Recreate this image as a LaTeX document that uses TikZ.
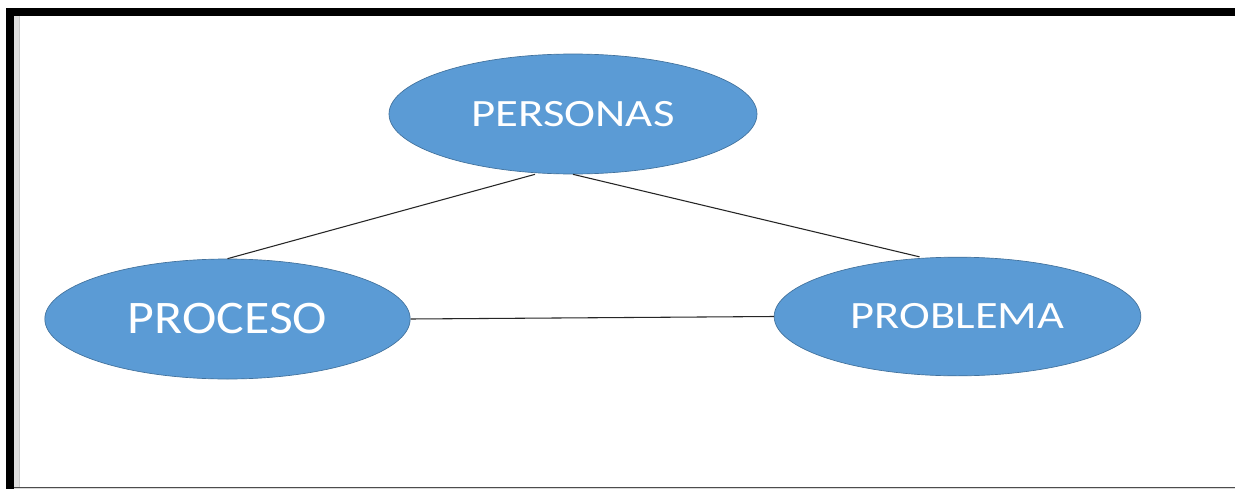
\documentclass[tikz,border=0pt]{standalone}
\usepackage{fontspec}
\setmainfont{Carlito}
\usetikzlibrary{shapes.geometric}
\definecolor{nodeblue}{HTML}{5B9BD5}
\definecolor{nodeedge}{HTML}{41719C}
\tikzset{
  bubble/.style={ellipse, fill=nodeblue, draw=nodeedge, line width=0.5pt, inner sep=0pt, text=white},
  link/.style={draw=black!85, line width=0.8pt},
}
\begin{document}
\begin{tikzpicture}[x=0.75pt, y=-0.75pt]
\useasboundingbox (0,0) rectangle (1235,489);
\fill[white] (0,0) rectangle (1235,489);
% frame
\fill[black!12] (14,16) rectangle (20,489);
\fill[black!20] (19,16) rectangle (20,487);
\fill[black!70] (14,486.5) rectangle (1235,487.5);
\fill[black!15] (14,487.5) rectangle (1235,489);
\fill[black] (6,8) rectangle (1235,16);
\fill[black] (6,8) rectangle (14,489);
% nodes
\node[bubble, minimum width=276pt, minimum height=90pt, font=\addfontfeatures{FakeStretch=1.21}\fontsize{29}{29}\selectfont] (pers) at (573,114) {PERSONAS};
\node[bubble, minimum width=274pt, minimum height=90pt, font=\addfontfeatures{FakeStretch=1.11}\fontsize{35}{35}\selectfont] (proc) at (227.5,319) {PROCESO};
\node[bubble, minimum width=275pt, minimum height=89pt, font=\addfontfeatures{FakeStretch=1.2}\fontsize{29}{29}\selectfont] (prob) at (957.5,316.5) {PROBLEMA};
% connectors
\draw[link] ([xshift=-28.5pt]pers.south) -- (proc.north);
\draw[link] (pers.south) -- ([xshift=-28.5pt]prob.north);
\draw[link] (proc.east) -- (prob.west);
\end{tikzpicture}
\end{document}
